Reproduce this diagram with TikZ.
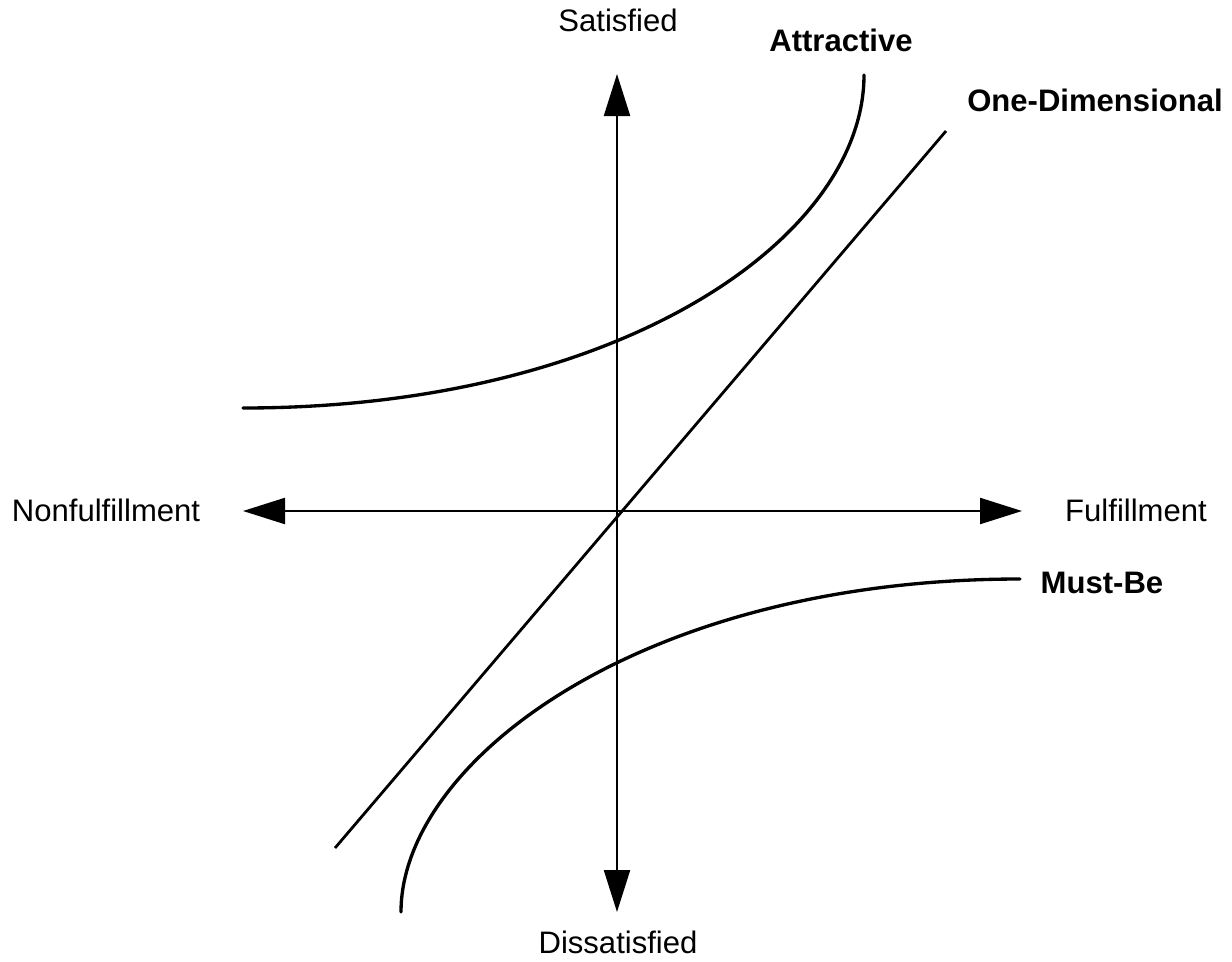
\documentclass[tikz,border=0pt]{standalone}
\usepackage{fontspec}
\setmainfont{Liberation Sans}
\usetikzlibrary{arrows.meta}
\tikzset{
  lbl/.style={font=\fontsize{23.3}{28}\selectfont, inner sep=0pt},
  blbl/.style={lbl, font=\fontsize{23.3}{28}\selectfont\bfseries},
  axis/.style={line width=1.7pt, {Triangle[length=31.5pt,width=19.5pt]}-{Triangle[length=31.5pt,width=19.5pt]}},
  curve/.style={line width=2.5pt, line cap=round},
  oneline/.style={line width=2.1pt}
}
\begin{document}
\begin{tikzpicture}[x=0.75pt,y=-0.75pt]
\useasboundingbox (0,0) rectangle (1232,961);
% axes end points
\coordinate (top) at (617,74);
\coordinate (bot) at (617,912);
\coordinate (lft) at (243,511);
\coordinate (rgt) at (1022,511);
\draw[axis] (bot) -- (top);
\draw[axis] (lft) -- (rgt);
% labels
\node[lbl] (sat) at (618,20) {Satisfied};
\node[lbl] (dis) at (618,942) {Dissatisfied};
\node[lbl] (nonf) at (106,510) {Nonfulfillment};
\node[lbl] (ful) at (1136,510) {Fulfillment};
\node[blbl] (attr) at (841,40) {Attractive};
\node[blbl] (oned) at (1095,100) {One-Dimensional};
\node[blbl] (must) at (1102,583) {Must-Be};
% curves
\coordinate (a0) at (243,408);
\coordinate (a1) at (864,75);
\draw[curve] (a0) .. controls (620,408) and (864,238) .. (a1);
\coordinate (o0) at (335,848);
\coordinate (o1) at (946,131);
\draw[oneline] (o0) -- (o1);
\coordinate (m0) at (401,912);
\coordinate (m1) at (1020,579);
\draw[curve] (m0) .. controls (401,762) and (640,579) .. (m1);
\end{tikzpicture}
\end{document}
